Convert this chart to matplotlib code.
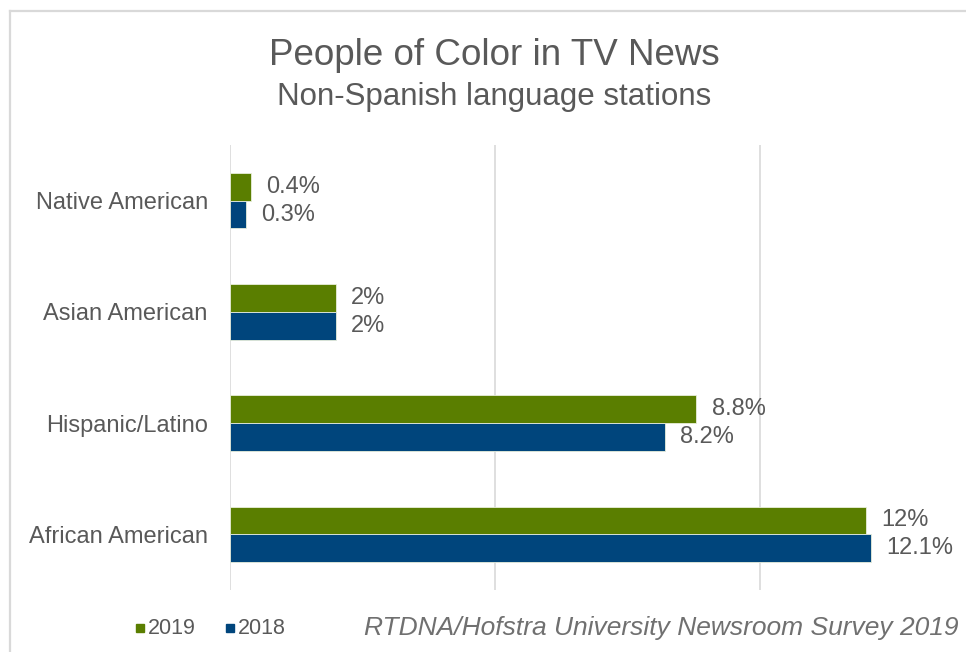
import matplotlib.pyplot as plt
from matplotlib.lines import Line2D
from matplotlib.patches import Rectangle

plt.rcParams["font.family"] = ["Liberation Sans", "DejaVu Sans"]

categories = ["Native American", "Asian American", "Hispanic/Latino", "African American"]
series_names = ["2019", "2018"]
values_2019 = [0.4, 2, 8.8, 12]
values_2018 = [0.3, 2, 8.2, 12.1]
labels_2019 = ["0.4%", "2%", "8.8%", "12%"]
labels_2018 = ["0.3%", "2%", "8.2%", "12.1%"]

GREEN = "#5a7e00"
BLUE = "#00457c"
TEXT = "#595959"
GRID = "#d9d9d9"

W, H = 966, 652
fig = plt.figure(figsize=(W / 100, H / 100), dpi=100)
ax = fig.add_axes([230 / W, 1 - 590 / H, 730 / W, 445 / H])

bar_h = 0.25
ys = range(len(categories))
for vals, labs, color, shift in [(values_2019, labels_2019, GREEN, -bar_h / 2),
                                 (values_2018, labels_2018, BLUE, bar_h / 2)]:
    pos = [y + shift for y in ys]
    ax.barh(pos, vals, height=bar_h, color=color, edgecolor="#e8eedb", linewidth=0.6, zorder=3)
    for p, v, lab in zip(pos, vals, labs):
        ax.annotate(lab, (v, p), xytext=(11, 0), textcoords="offset points",
                    va="center", ha="left", fontsize=17, color=TEXT)

ax.set_xlim(0, 730 / 53)
ax.set_ylim(len(categories) - 0.5, -0.5)
ax.set_xticks([0, 5, 10])
ax.set_xticklabels([])
ax.set_yticks(list(ys))
ax.set_yticklabels(categories, fontsize=17, color=TEXT)
ax.tick_params(axis="both", length=0)
ax.tick_params(axis="y", pad=16)
ax.grid(axis="x", color=GRID, linewidth=1.2, zorder=0)
for s in ax.spines.values():
    s.set_visible(False)

# titles
fig.text(494 / W, 1 - 65 / H, "People of Color in TV News", ha="center", va="baseline",
         fontsize=26.5, color=TEXT)
fig.text(494 / W, 1 - 105 / H, "Non-Spanish language stations", ha="center", va="baseline",
         fontsize=22.5, color=TEXT)

# legend
ly = 1 - 628 / H
for x0, name, color in [(136, series_names[0], GREEN), (226, series_names[1], BLUE)]:
    fig.add_artist(Rectangle((x0 / W, ly - 4 / H), 8 / W, 8 / H, color=color,
                             transform=fig.transFigure))
    fig.text((x0 + 12) / W, ly, name, ha="left", va="center", fontsize=15.5, color=TEXT)

fig.text(958 / W, ly, "RTDNA/Hofstra University Newsroom Survey 2019", ha="right",
         va="center", fontsize=19, style="italic", color="#707070")

# outer frame
fig.add_artist(Line2D([10 / W, 965 / W], [1 - 11 / H, 1 - 11 / H], color=GRID, lw=1.6,
                      transform=fig.transFigure))
fig.add_artist(Line2D([10 / W, 10 / W], [0, 1 - 11 / H], color=GRID, lw=1.6,
                      transform=fig.transFigure))

fig.savefig("out.png", dpi=100)
